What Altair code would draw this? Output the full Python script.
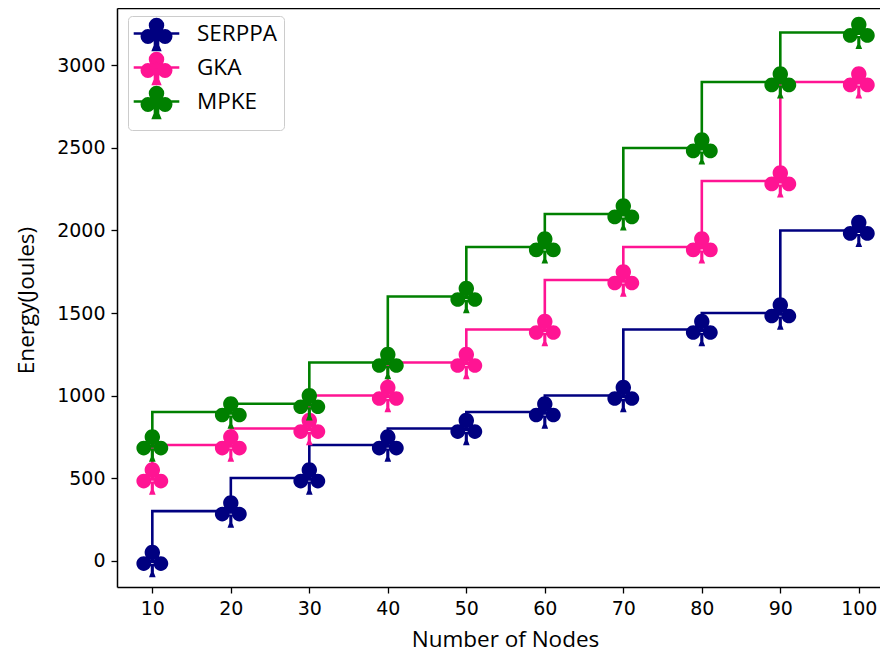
import altair as alt
import pandas as pd

# ---- data ----
nodes = [10, 20, 30, 40, 50, 60, 70, 80, 90, 100]
serppa = [0, 300, 500, 700, 800, 900, 1000, 1400, 1500, 2000]
gka = [500, 700, 800, 1000, 1200, 1400, 1700, 1900, 2300, 2900]
mpke = [700, 900, 950, 1200, 1600, 1900, 2100, 2500, 2900, 3200]
series_names = ["SERPPA", "GKA", "MPKE"]
series_colors = ["#000080", "#ff1493", "#008000"]
y_ticks = [0, 500, 1000, 1500, 2000, 2500, 3000]

rows = []
for name, vals in zip(series_names, [serppa, gka, mpke]):
    for n, v in zip(nodes, vals):
        rows.append({"series": name, "nodes": n, "energy": v})
df = pd.DataFrame(rows)


def circle(cx, cy, r):
    return (f"M{cx - r:.3f},{cy:.3f} A{r:.3f},{r:.3f} 0 1,0 {cx + r:.3f},{cy:.3f} "
            f"A{r:.3f},{r:.3f} 0 1,0 {cx - r:.3f},{cy:.3f} Z ")


def club(k=1.0, shrink=0.0):
    p = ""
    p += circle(0, -0.46 * k, 0.44 * k - shrink)
    p += circle(-0.49 * k, 0.17 * k, 0.42 * k - shrink)
    p += circle(0.49 * k, 0.17 * k, 0.42 * k - shrink)
    p += f"M{-0.25*k:.3f},{0.15*k:.3f} L{0.25*k:.3f},{0.15*k:.3f} L0,{-0.2*k:.3f} Z "
    p += (f"M{-0.09*k:.3f},{0.2*k:.3f} L{-0.09*k:.3f},{0.7*k:.3f} L{-0.19*k:.3f},{0.95*k:.3f} "
          f"L{0.19*k:.3f},{0.95*k:.3f} L{0.09*k:.3f},{0.7*k:.3f} L{0.09*k:.3f},{0.2*k:.3f} Z ")
    return p


marker_path = club()
legend_path = club(1.75, 0.12) + "M-2.28,0 L2.28,0"

FONT = "DejaVu Sans"
TFONT = "Open Sans"
FS = 19
TFS = 22.5

color_scale = alt.Scale(domain=series_names, range=series_colors)
x_scale = alt.Scale(domain=[5.5, 102.7], nice=False, zero=False)
y_scale = alt.Scale(domain=[-160, 3348], nice=False, zero=False)

legend = alt.Legend(
    title=None, orient="none", legendX=11, legendY=8,
    fillColor="white", strokeColor="#cccccc", cornerRadius=4, padding=6,
    labelFont=TFONT, labelFontSize=TFS, labelColor="black", labelOffset=29,
    symbolType=legend_path, symbolSize=400, symbolStrokeWidth=2.5,
    symbolOffset=11, rowPadding=-10,
)

y_axis = alt.Axis(values=y_ticks, format="d", title="Energy(Joules)", grid=False,
                  domainColor="black", domainWidth=1.5, tickColor="black",
                  tickWidth=1.3, tickSize=6, labelFont=FONT, labelFontSize=FS,
                  labelColor="black", labelPadding=6, titleFont=TFONT,
                  titleFontSize=TFS, titleFontWeight="normal", titleColor="black",
                  titlePadding=18, titleY=292)

lines = alt.Chart(df).mark_line(interpolate="step-before", strokeWidth=2.6).encode(
    x=alt.X("nodes:Q", scale=x_scale,
            axis=alt.Axis(values=nodes, title="Number of Nodes", grid=False,
                          domainColor="black", domainWidth=1.5, tickColor="black",
                          tickWidth=1.3, tickSize=6, labelFont=FONT, labelFontSize=FS,
                          labelColor="black", labelPadding=6, titleFont=TFONT,
                          titleFontSize=TFS, titleFontWeight="normal", titleColor="black",
                          titlePadding=10, titleX=388)),
    y=alt.Y("energy:Q", scale=y_scale, axis=y_axis),
    color=alt.Color("series:N", scale=color_scale, legend=legend, sort=series_names),
    detail="series:N",
)

points = alt.Chart(df).mark_point(shape=marker_path, filled=True, size=1225, opacity=1).encode(
    x=alt.X("nodes:Q", scale=x_scale,
            axis=alt.Axis(orient="top", labels=False, ticks=False, title=None, grid=False,
                          domainColor="black", domainWidth=1.5)),
    y=alt.Y("energy:Q", scale=y_scale, axis=y_axis),
    color=alt.Color("series:N", scale=color_scale, legend=legend, sort=series_names),
)

chart = alt.layer(lines, points).resolve_axis(x="independent").properties(
    width=763, height=579,
    autosize="none",
    padding={"left": 109, "top": 0, "right": 0, "bottom": 66},
).configure_view(stroke=None)

chart.save("out.html", embed_options={"renderer": "svg", "actions": False})
